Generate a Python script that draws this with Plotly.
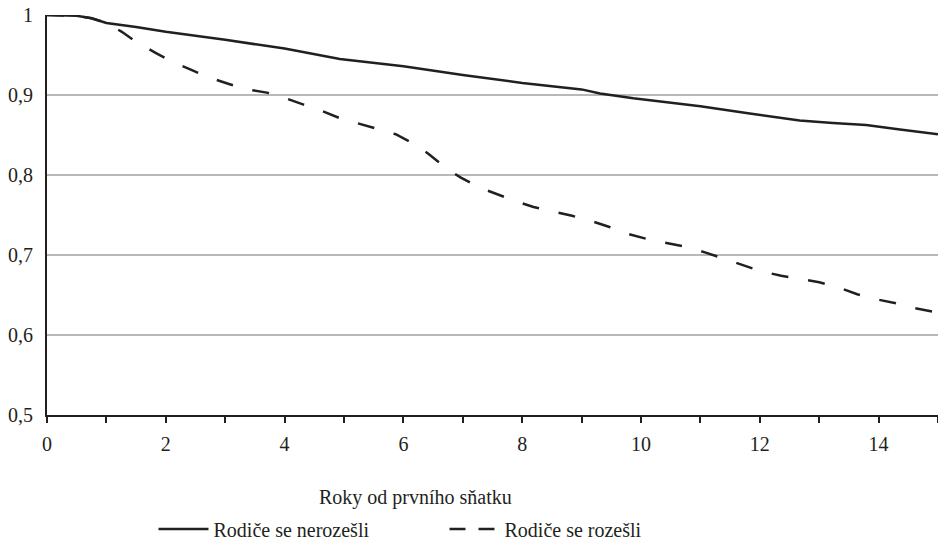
import plotly.graph_objects as go

# Years since first marriage
years_intact = [0, 0.5, 0.75, 1, 1.5, 2, 3, 4, 4.93, 6, 7, 8, 9, 9.31, 9.87, 11, 11.83, 12.67, 13.23, 13.79, 14.36, 15]
surv_intact = [1.0, 0.999, 0.996, 0.990, 0.985, 0.979, 0.969, 0.958, 0.945, 0.936, 0.925, 0.915, 0.907, 0.902, 0.896, 0.886, 0.877, 0.868, 0.865, 0.8625, 0.857, 0.851]

years_divorced = [0, 0.5, 0.75, 1.0, 1.26, 1.51, 1.82, 2.1, 2.44, 2.69, 3.05, 3.33, 3.7, 3.98, 4.32, 4.6,
                  4.93, 5.22, 5.58, 5.87, 6.18, 6.43, 6.71, 6.96, 7.29, 7.57, 7.9, 8.19, 8.54, 8.84,
                  9.18, 9.47, 9.8, 10.1, 10.45, 10.75, 11.09, 11.38, 11.72, 12.01, 12.36, 12.66,
                  13.0, 13.3, 13.64, 13.94, 14.29, 14.58, 14.92, 15]
surv_divorced = [1.0, 0.999, 0.996, 0.990, 0.979, 0.966, 0.953, 0.942, 0.931, 0.923, 0.914, 0.9075, 0.903, 0.897, 0.888, 0.881,
                 0.871, 0.865, 0.8575, 0.851, 0.839, 0.826, 0.809, 0.797, 0.784, 0.776, 0.767, 0.760, 0.754, 0.749,
                 0.742, 0.735, 0.726, 0.720, 0.7146, 0.7104, 0.703, 0.696, 0.687, 0.680, 0.674, 0.670,
                 0.666, 0.660, 0.651, 0.645, 0.6396, 0.634, 0.629, 0.628]

name_intact = "Rodiče se nerozešli"
name_divorced = "Rodiče se rozešli"
x_title = "Roky od prvního sňatku"

FONT = "Liberation Serif"
INK = "#231f20"
FS = 20

fig = go.Figure()
fig.add_trace(go.Scatter(x=years_intact, y=surv_intact, mode="lines", name=name_intact,
                         line=dict(color=INK, width=2.5), showlegend=True))
fig.add_trace(go.Scatter(x=years_divorced, y=surv_divorced, mode="lines", name=name_divorced,
                         line=dict(color=INK, width=2.5, dash="17px,20px"), showlegend=False))
# legend entry for the dashed series (same style, shorter dash so the sample shows two dashes)
fig.add_trace(go.Scatter(x=[None], y=[None], mode="lines", name=name_divorced,
                         line=dict(color=INK, width=2.5, dash="16px,13px"), showlegend=True))

fig.update_layout(
    width=938, height=546,
    margin=dict(l=47, r=0, t=15, b=131, autoexpand=False),
    paper_bgcolor="white", plot_bgcolor="white",
    separators=", ",
    font=dict(family=FONT, size=FS, color=INK),
    showlegend=True,
    legend=dict(orientation="h", x=(158 - 4.5 - 47) / 891, xanchor="left", y=-0.285, yanchor="middle",
                entrywidth=226, font=dict(size=FS), itemwidth=50, bgcolor="rgba(0,0,0,0)"),
    xaxis=dict(range=[0, 15], dtick=2, tick0=0, showgrid=False, zeroline=False, automargin=False,
               showline=True, linecolor=INK, linewidth=2, ticklabelstandoff=4,
               ticks="outside", ticklen=6, tickwidth=2, tickcolor=INK,
               minor=dict(dtick=1, ticks="outside", ticklen=6, tickwidth=2, tickcolor=INK, showgrid=False)),
    yaxis=dict(range=[0.5, 1.0], dtick=0.1, tick0=0.5, showgrid=True, gridcolor="#b8b8b8", gridwidth=1.5,
               automargin=False, zeroline=False, showline=True, linecolor=INK, linewidth=2,
               ticks="", ticklabelstandoff=8),
)
fig.add_annotation(text=x_title, xref="paper", yref="paper", x=(415 - 47) / 891, y=-0.205,
                   showarrow=False, font=dict(size=FS, family=FONT, color=INK), xanchor="center", yanchor="middle")

fig.write_html("out.html", config={"displayModeBar": False},
               post_script="document.body.style.margin='0';document.body.style.overflow='hidden';")
